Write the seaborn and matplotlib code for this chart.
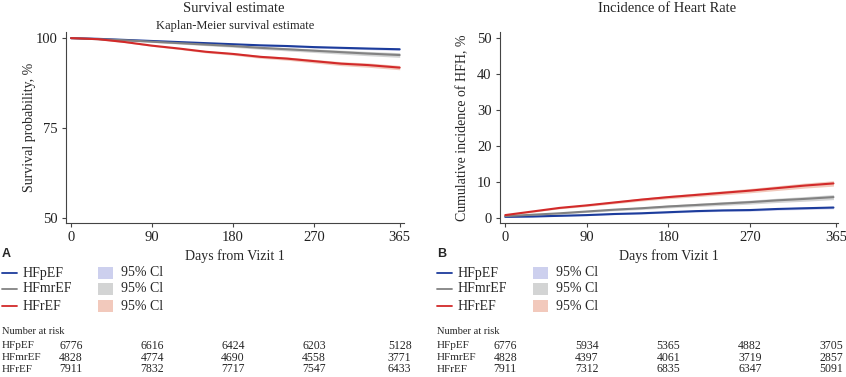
import numpy as np
import pandas as pd
import matplotlib.pyplot as plt
import seaborn as sns
from matplotlib.lines import Line2D
from matplotlib.patches import Rectangle

W, H = 846, 377

groups = ['HFpEF', 'HFmrEF', 'HFrEF']
line_colors = {'HFpEF': '#1c3c9c', 'HFmrEF': '#828282', 'HFrEF': '#d22a2a'}
ci_colors = {'HFpEF': '#cdd0ee', 'HFmrEF': '#d3d4d4', 'HFrEF': '#f2c9bc'}

# survival (Kaplan-Meier), %
surv_days = [0, 30, 60, 90, 120, 150, 180, 210, 240, 270, 300, 330, 365]
surv_p = [100, 99.8, 99.5, 99.2, 98.9, 98.6, 98.3, 98.0, 97.8, 97.5, 97.3, 97.1, 96.9]
surv_mr = [100, 99.7, 99.4, 99.0, 98.6, 98.2, 97.8, 97.3, 96.9, 96.5, 96.1, 95.7, 95.3]
surv_r = [100, 99.7, 98.9, 97.9, 97.1, 96.2, 95.6, 94.8, 94.3, 93.6, 92.9, 92.5, 91.8]
# 95% CI half-widths
surv_ci_p = [0, 0.05, 0.1, 0.12, 0.15, 0.17, 0.2, 0.22, 0.24, 0.26, 0.28, 0.3, 0.32]
surv_ci_mr = [0, 0.1, 0.15, 0.2, 0.25, 0.3, 0.35, 0.4, 0.45, 0.5, 0.55, 0.6, 0.65]
surv_ci_r = [0, 0.1, 0.15, 0.2, 0.25, 0.3, 0.35, 0.4, 0.45, 0.5, 0.55, 0.6, 0.6]

# cumulative incidence of HFH, %
inc_days = [0, 30, 60, 90, 120, 150, 180, 210, 240, 270, 300, 330, 362]
inc_p = [0.2, 0.3, 0.5, 0.7, 1.0, 1.2, 1.5, 1.8, 2.0, 2.1, 2.4, 2.6, 2.8]
inc_mr = [0.4, 0.8, 1.2, 1.7, 2.2, 2.6, 3.1, 3.5, 3.9, 4.3, 4.8, 5.2, 5.7]
inc_r = [0.7, 1.7, 2.7, 3.4, 4.2, 5.0, 5.7, 6.3, 6.9, 7.5, 8.2, 8.9, 9.5]
inc_ci_p = [0.05, 0.1, 0.12, 0.15, 0.18, 0.2, 0.22, 0.25, 0.27, 0.3, 0.32, 0.34, 0.35]
inc_ci_mr = [0.1, 0.15, 0.2, 0.25, 0.3, 0.35, 0.4, 0.45, 0.5, 0.55, 0.6, 0.65, 0.7]
inc_ci_r = [0.1, 0.2, 0.25, 0.3, 0.35, 0.4, 0.45, 0.5, 0.55, 0.6, 0.65, 0.7, 0.75]

xticks = [0, 90, 180, 270, 365]
risk_a = {'HFpEF': [6776, 6616, 6424, 6203, 5128],
          'HFmrEF': [4828, 4774, 4690, 4558, 3771],
          'HFrEF': [7911, 7832, 7717, 7547, 6433]}
risk_b = {'HFpEF': [6776, 5934, 5365, 4882, 3705],
          'HFmrEF': [4828, 4397, 4061, 3719, 2857],
          'HFrEF': [7911, 7312, 6835, 6347, 5091]}

sns.set_style('ticks')
plt.rcParams['font.family'] = ['Liberation Serif', 'DejaVu Serif']
plt.rcParams['axes.edgecolor'] = '#444444'
plt.rcParams['xtick.color'] = '#444444'
plt.rcParams['ytick.color'] = '#444444'

fig = plt.figure(figsize=(W / 100, H / 100), dpi=100)


def box(x0, y0, x1, y1):
    return [x0 / W, 1 - y1 / H, (x1 - x0) / W, (y1 - y0) / H]


def fx(x):
    return x / W


def fy(y):
    return 1 - y / H


def draw_panel(ax, days, series, cis, ylim, xlim, yticks, ylabel):
    for g, vals, c in zip(groups, series, cis):
        v = np.array(vals)
        c = np.array(c)
        ax.fill_between(days, v - c, v + c, color=ci_colors[g], lw=0, zorder=1)
    df = pd.DataFrame({'day': days * 3,
                       'value': [v for s in series for v in s],
                       'group': [g for g in groups for _ in days]})
    sns.lineplot(data=df, x='day', y='value', hue='group', palette=line_colors,
                 estimator=None, legend=False, linewidth=1.5, ax=ax, zorder=3)
    ax.set_xlim(*xlim)
    ax.set_ylim(*ylim)
    ax.set_xticks(xticks)
    ax.set_yticks(yticks)
    ax.set_xlabel('Days from Vizit 1', fontsize=10)
    ax.set_ylabel(ylabel, fontsize=10)
    ax.xaxis.set_label_coords(0.5, -0.135)
    ax.yaxis.set_label_coords(-0.09, 0.5)
    ax.tick_params(labelsize=10.5, length=3, width=0.8, pad=3, labelcolor='#222222')
    for s in ['top', 'right']:
        ax.spines[s].set_visible(False)
    for s in ['left', 'bottom']:
        ax.spines[s].set_linewidth(0.8)


axA = fig.add_axes(box(66, 32, 404, 223))
draw_panel(axA, surv_days, [surv_p, surv_mr, surv_r],
           [surv_ci_p, surv_ci_mr, surv_ci_r],
           (48.6, 101.7), (-5.6, 369.8), [50, 75, 100], 'Survival probability, %')
axA.text(0.5, 1.0, 'Kaplan-Meier survival estimate', transform=axA.transAxes,
         ha='center', va='bottom', fontsize=9)
fig.text(fx(234), fy(8), 'Survival estimate', ha='center', va='center', fontsize=10.5)

axB = fig.add_axes(box(500, 32, 838, 223))
draw_panel(axB, inc_days, [inc_p, inc_mr, inc_r], [inc_ci_p, inc_ci_mr, inc_ci_r],
           (-1.5, 51.6), (-5.8, 367.0), [0, 10, 20, 30, 40, 50],
           'Cumulative incidence of HFH, %')
fig.text(fx(667), fy(8), 'Incidence of Heart Rate', ha='center', va='center', fontsize=10.5)


def legend_and_risk(ax, x0, letter, risk):
    fig.text(fx(x0 + 1), fy(254), letter, ha='left', va='center', fontsize=9,
             fontweight='bold', family='Liberation Sans')
    rows = [273, 289, 306]
    for g, y in zip(groups, rows):
        fig.add_artist(Line2D([fx(x0 + 1), fx(x0 + 16)], [fy(y), fy(y)],
                              color=line_colors[g], lw=1.3, transform=fig.transFigure))
        fig.text(fx(x0 + 22), fy(y), g, ha='left', va='center', fontsize=10)
        fig.add_artist(Rectangle((fx(x0 + 97), fy(y + 6)), 15 / W, 12 / H,
                                 color=ci_colors[g], lw=0, transform=fig.transFigure))
        fig.text(fx(x0 + 120), fy(y), '95% Cl', ha='left', va='center', fontsize=10)
    fig.text(fx(x0 + 1), fy(331), 'Number at risk', ha='left', va='center', fontsize=7.5)
    for g, y in zip(groups, [346, 358, 369]):
        fig.text(fx(x0 + 1), fy(y), g, ha='left', va='center', fontsize=8)
        for d, n in zip(xticks, risk[g]):
            xd = fig.transFigure.inverted().transform(ax.transData.transform((d, 0)))[0]
            xd = min(xd, fx(W - 15))
            fig.text(xd, fy(y), str(n), ha='center', va='center', fontsize=8.5)


legend_and_risk(axA, 1, 'A', risk_a)
legend_and_risk(axB, 436, 'B', risk_b)

fig.savefig('out.png', dpi=100)
